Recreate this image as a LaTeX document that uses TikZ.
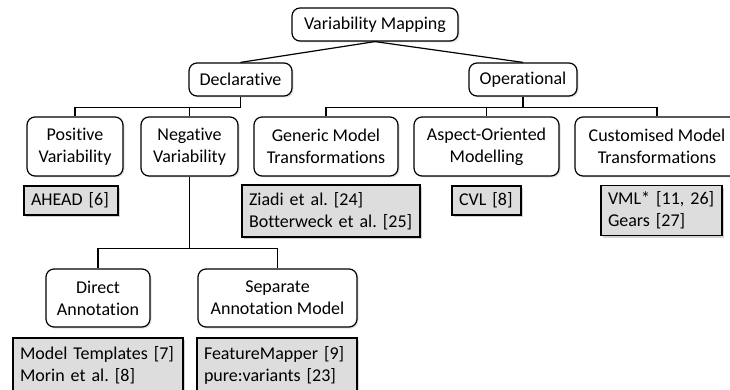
\documentclass[tikz,border=0pt]{standalone}
\usepackage{fontspec}
\setmainfont[Ligatures={NoCommon}]{Carlito}
\usetikzlibrary{shadows}
\definecolor{refgrey}{RGB}{221,221,221}
\tikzset{
  catbox/.style={draw=black, line width=1.2pt, rounded corners=8pt, fill=white,
    align=center, inner sep=0pt,
    drop shadow={shadow xshift=1.5pt, shadow yshift=-1.5pt, opacity=0.25},
    font=\fontsize{18}{22}\selectfont},
  refbox/.style={draw=black, line width=1.2pt, fill=refgrey, align=left,
    inner xsep=7pt, inner ysep=0pt, text width=#1,
    drop shadow={shadow xshift=2pt, shadow yshift=-2pt, opacity=0.35},
    font=\fontsize{18}{22}\selectfont\frenchspacing},
  link/.style={draw=black, line width=1.2pt}
}
\begin{document}
\frenchspacing
\begin{tikzpicture}[x=1pt, y=-1pt]
\useasboundingbox (0,0) rectangle (730,390);
% root and the two main approaches
\node[catbox, minimum width=166pt, minimum height=33pt] (vm) at (375,24.5) {Variability Mapping};
\node[catbox, minimum width=103pt, minimum height=33pt] (decl) at (240.5,79.5) {Declarative};
\node[catbox, minimum width=108pt, minimum height=33pt] (oper) at (523,79.5) {Operational};
% third level
\node[catbox, minimum width=96pt, minimum height=59pt] (pos) at (75,146.5) {Positive\\Variability};
\node[catbox, minimum width=97pt, minimum height=59pt] (neg) at (189.5,146.5) {Negative\\Variability};
\node[catbox, minimum width=144pt, minimum height=59pt] (gen) at (326,146.5) {Generic Model\\Transformations};
\node[catbox, minimum width=145pt, minimum height=59pt] (asp) at (486.5,146.5) {Aspect-Oriented\\Modelling};
\node[catbox, minimum width=164pt, minimum height=59pt] (cust) at (657,146.5) {Customised Model\\Transformations};
% negative variability split
\node[catbox, minimum width=104pt, minimum height=58pt] (direct) at (98,298) {Direct\\Annotation};
\node[catbox, minimum width=159pt, minimum height=58pt] (sep) at (277.5,298) {Separate\\Annotation Model};
% reference boxes
\node[refbox=80pt, minimum height=29pt] (ahead) at (71,200.5) {AHEAD [6]};
\node[refbox=164pt, minimum height=52pt] (ziadi) at (331,211) {Ziadi et al. [24]\\Botterweck et al. [25]};
\node[refbox=55pt, minimum height=29pt] (cvl) at (486.5,200.5) {CVL [8]};
\node[refbox=107pt, minimum height=50pt] (vml) at (661.5,210.5) {VML* [11, 26]\\Gears [27]};
\node[refbox=156pt, minimum height=54pt] (mt) at (98,365) {Model Templates [7]\\Morin et al. [8]};
\node[refbox=146pt, minimum height=54pt] (fm) at (277,365) {FeatureMapper [9]\\pure:variants [23]};
% connectors
\draw[link] (decl.north) -- (vm.south);
\draw[link] (oper.north) -- (vm.south);
\draw[link] (decl.south) -- ++(0,11) -| (pos.north);
\draw[link] (decl.south) ++(0,11) -| (neg.north);
\draw[link] (oper.south) -- ++(0,11) -| (gen.north);
\draw[link] (oper.south) ++(0,11) -| (asp.north);
\draw[link] (oper.south) ++(0,11) -| (cust.north);
\draw[link] (neg.south) -- ++(0,72) -| (direct.north);
\draw[link] (neg.south) ++(0,72) -| (sep.north);
\end{tikzpicture}
\end{document}
